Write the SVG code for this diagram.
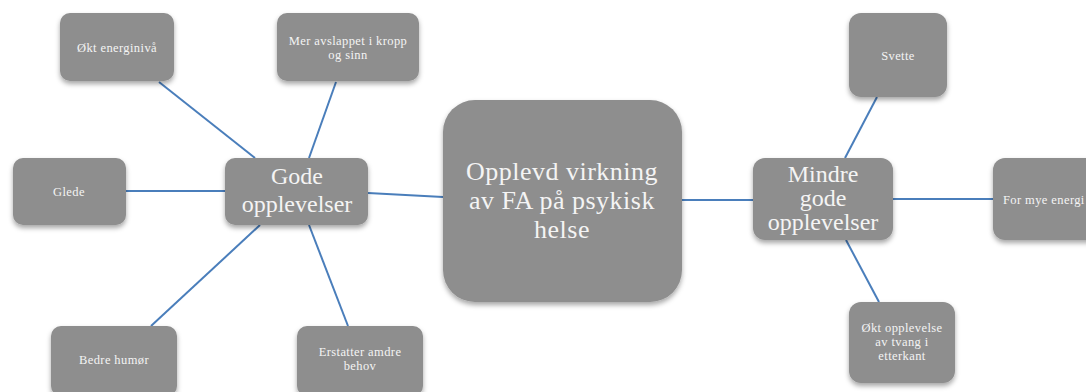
<svg xmlns="http://www.w3.org/2000/svg" width="1086" height="392" viewBox="0 0 1086 392">
  <style>
    .box { fill: #8e8e8e; filter: url(#shadow); }
    .lbl { fill: #f4f4f4; font-family: "Liberation Serif", "DejaVu Serif", serif; text-anchor: middle; }
    .s { font-size: 12.5px; letter-spacing: 0.4px; }
    .m { font-size: 24px; }
    .l { font-size: 26px; letter-spacing: 0.5px; }
    .link { stroke: #4a7ebb; stroke-width: 2; fill: none; }
  </style>
  <defs>
    <filter id="shadow" x="-20%" y="-20%" width="140%" height="150%">
      <feDropShadow dx="0" dy="3" stdDeviation="2.5" flood-color="#000" flood-opacity="0.35"/>
    </filter>
  </defs>
  <rect width="1086" height="392" fill="#ffffff"/>

  <g id="connectors">
    <line class="link" x1="159" y1="82" x2="255" y2="158"/>
    <line class="link" x1="336" y1="82" x2="309" y2="158"/>
    <line class="link" x1="126" y1="191" x2="225" y2="191"/>
    <line class="link" x1="368" y1="193" x2="443" y2="197"/>
    <line class="link" x1="260" y1="225" x2="151" y2="326"/>
    <line class="link" x1="309" y1="225" x2="348" y2="326"/>
    <line class="link" x1="682" y1="200" x2="753" y2="200"/>
    <line class="link" x1="877" y1="97" x2="845" y2="158"/>
    <line class="link" x1="893" y1="199" x2="993" y2="199"/>
    <line class="link" x1="846" y1="240" x2="879" y2="302"/>
  </g>

  <g id="center">
    <rect class="box" x="443" y="100" width="239" height="202" rx="32"/>
    <text class="lbl l" x="562" y="180">Opplevd virkning</text>
    <text class="lbl l" x="562" y="209">av FA på psykisk</text>
    <text class="lbl l" x="562" y="238">helse</text>
  </g>

  <g id="gode">
    <rect class="box" x="225" y="158" width="143" height="67" rx="10"/>
    <text class="lbl m" x="297" y="184">Gode</text>
    <text class="lbl m" x="297" y="212">opplevelser</text>
  </g>

  <g id="okt-energiniva">
    <rect class="box" x="60" y="13" width="114" height="68" rx="10"/>
    <text class="lbl s" x="117" y="52">Økt energinivå</text>
  </g>

  <g id="mer-avslappet">
    <rect class="box" x="277" y="13" width="142" height="68" rx="10"/>
    <text class="lbl s" x="348" y="45">Mer avslappet i kropp</text>
    <text class="lbl s" x="348" y="59">og sinn</text>
  </g>

  <g id="glede">
    <rect class="box" x="13" y="158" width="113" height="67" rx="10"/>
    <text class="lbl s" x="69" y="196">Glede</text>
  </g>

  <g id="bedre-humor">
    <rect class="box" x="51" y="326" width="126" height="70" rx="10"/>
    <text class="lbl s" x="114" y="364">Bedre humør</text>
  </g>

  <g id="erstatter">
    <rect class="box" x="297" y="326" width="126" height="70" rx="10"/>
    <text class="lbl s" x="360" y="356">Erstatter amdre</text>
    <text class="lbl s" x="360" y="370">behov</text>
  </g>

  <g id="mindre-gode">
    <rect class="box" x="753" y="158" width="140" height="82" rx="12"/>
    <text class="lbl m" x="823" y="182">Mindre</text>
    <text class="lbl m" x="823" y="206">gode</text>
    <text class="lbl m" x="823" y="230">opplevelser</text>
  </g>

  <g id="svette">
    <rect class="box" x="849" y="13" width="98" height="84" rx="12"/>
    <text class="lbl s" x="898" y="60">Svette</text>
  </g>

  <g id="for-mye-energi">
    <rect class="box" x="993" y="158" width="110" height="82" rx="12"/>
    <text class="lbl s" x="1003" y="204" style="text-anchor:start">For mye energi</text>
  </g>

  <g id="okt-opplevelse">
    <rect class="box" x="849" y="302" width="106" height="81" rx="12"/>
    <text class="lbl s" x="902" y="332">Økt opplevelse</text>
    <text class="lbl s" x="902" y="346">av tvang i</text>
    <text class="lbl s" x="902" y="360">etterkant</text>
  </g>
</svg>
